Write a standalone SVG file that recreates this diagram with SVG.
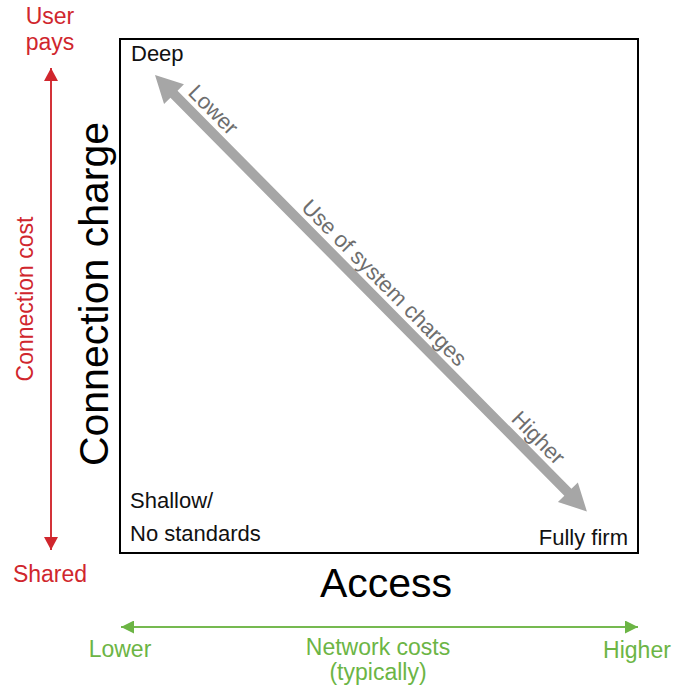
<svg xmlns="http://www.w3.org/2000/svg" width="674" height="689" viewBox="0 0 674 689">
  <defs>
    <marker id="headRed" viewBox="0 0 10 10" refX="10" refY="5" markerWidth="13" markerHeight="14" markerUnits="userSpaceOnUse" orient="auto" preserveAspectRatio="none">
      <path d="M0,0 L10,5 L0,10 z" fill="#d0262d"/>
    </marker>
    <marker id="headGreen" viewBox="0 0 10 10" refX="10" refY="5" markerWidth="13" markerHeight="13" markerUnits="userSpaceOnUse" orient="auto" preserveAspectRatio="none">
      <path d="M0,0 L10,5 L0,10 z" fill="#6cb545"/>
    </marker>
  </defs>
  <style>
    text { font-family: "Liberation Sans", Arial, sans-serif; }
    .lbl { font-size: 22px; fill: #111; }
    .red { font-size: 23px; fill: #d0262d; }
    .grn { font-size: 23px; fill: #6cb545; }
    .gry { font-size: 22px; fill: #6e6e6e; }
    .big { font-size: 41px; fill: #000; }
  </style>
  <rect width="674" height="689" fill="#fff"/>

  <!-- quadrant frame -->
  <g id="frame">
    <rect x="120" y="39" width="518" height="514" fill="none" stroke="#000" stroke-width="2"/>
  </g>

  <!-- corner labels -->
  <g id="deep"><text class="lbl" x="131" y="61">Deep</text></g>
  <g id="shallow">
    <text class="lbl" x="130" y="508">Shallow/</text>
    <text class="lbl" x="130" y="541">No standards</text>
  </g>
  <g id="firm"><text class="lbl" x="628" y="545" text-anchor="end">Fully firm</text></g>

  <!-- axis titles -->
  <g id="axis-y"><text class="big" transform="translate(108,294) rotate(-90)" text-anchor="middle">Connection charge</text></g>
  <g id="axis-x"><text class="big" x="386" y="597" text-anchor="middle">Access</text></g>

  <g id="connectors">
    <!-- connection cost scale -->
    <line x1="51" y1="550" x2="51" y2="68" stroke="#d0262d" stroke-width="1.5" marker-end="url(#headRed)"/>
    <line x1="51" y1="68" x2="51" y2="550" stroke="#d0262d" stroke-width="1.5" marker-end="url(#headRed)"/>
    <!-- network cost scale -->
    <line x1="638" y1="627" x2="121" y2="627" stroke="#6cb545" stroke-width="1.5" marker-end="url(#headGreen)"/>
    <line x1="121" y1="627" x2="638" y2="627" stroke="#6cb545" stroke-width="1.5" marker-end="url(#headGreen)"/>
    <!-- use of system charges diagonal -->
    <g transform="translate(155,75) rotate(45.3)">
      <path d="M0,0 L27,-14 L27,-5 L587,-5 L587,-14 L614,0 L587,14 L587,5 L27,5 L27,14 z" fill="#a6a6a6"/>
    </g>
  </g>

  <!-- scale labels -->
  <g id="cost-labels">
    <text class="red" x="50" y="24" text-anchor="middle">User</text>
    <text class="red" x="50" y="50" text-anchor="middle">pays</text>
    <text class="red" x="50" y="582" text-anchor="middle">Shared</text>
    <text class="red" transform="translate(33,299) rotate(-90)" text-anchor="middle">Connection cost</text>
  </g>
  <g id="network-labels">
    <text class="grn" x="120" y="657" text-anchor="middle">Lower</text>
    <text class="grn" x="378" y="655" text-anchor="middle">Network costs</text>
    <text class="grn" x="378" y="680" text-anchor="middle">(typically)</text>
    <text class="grn" x="637" y="658" text-anchor="middle">Higher</text>
  </g>
  <g id="diagonal-labels">
    <text class="gry" transform="translate(208,115) rotate(45.3)" text-anchor="middle">Lower</text>
    <text class="gry" transform="translate(379,288) rotate(45.3)" text-anchor="middle">Use of system charges</text>
    <text class="gry" transform="translate(533,443) rotate(45.3)" text-anchor="middle">Higher</text>
  </g>
</svg>
